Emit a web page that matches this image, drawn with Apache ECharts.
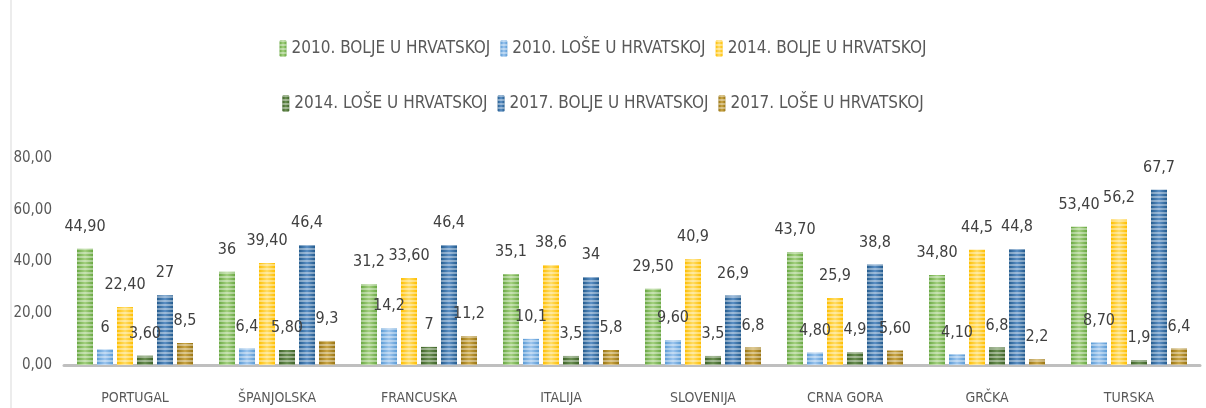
<!DOCTYPE html>
<html>
<head>
<meta charset="utf-8">
<script src="https://cdn.jsdelivr.net/npm/echarts@6/dist/echarts.min.js"></script>
<style>
  html, body { margin: 0; padding: 0; background: #fff; }
  #main { width: 1206px; height: 408px; }
</style>
</head>
<body>
<div id="main"></div>
<script>
var categories = ['PORTUGAL', 'ŠPANJOLSKA', 'FRANCUSKA', 'ITALIJA', 'SLOVENIJA', 'CRNA GORA', 'GRČKA', 'TURSKA'];
var seriesNames = [
  '2010. BOLJE U HRVATSKOJ', '2010. LOŠE U HRVATSKOJ', '2014. BOLJE U HRVATSKOJ',
  '2014. LOŠE U HRVATSKOJ', '2017. BOLJE U HRVATSKOJ', '2017. LOŠE U HRVATSKOJ'
];
var bolje2010 = [44.9, 36, 31.2, 35.1, 29.5, 43.7, 34.8, 53.4];
var lose2010  = [6, 6.4, 14.2, 10.1, 9.6, 4.8, 4.1, 8.7];
var bolje2014 = [22.4, 39.4, 33.6, 38.6, 40.9, 25.9, 44.5, 56.2];
var lose2014  = [3.6, 5.8, 7, 3.5, 3.5, 4.9, 6.8, 1.9];
var bolje2017 = [27, 46.4, 46.4, 34, 26.9, 38.8, 44.8, 67.7];
var lose2017  = [8.5, 9.3, 11.2, 5.8, 6.8, 5.6, 2.2, 6.4];

// labels as printed in the original (mixed decimals)
var labels2010b = ['44,90', '36', '31,2', '35,1', '29,50', '43,70', '34,80', '53,40'];
var labels2010l = ['6', '6,4', '14,2', '10,1', '9,60', '4,80', '4,10', '8,70'];
var labels2014b = ['22,40', '39,40', '33,60', '38,6', '40,9', '25,9', '44,5', '56,2'];
var labels2014l = ['3,60', '5,80', '7', '3,5', '3,5', '4,9', '6,8', '1,9'];
var labels2017b = ['27', '46,4', '46,4', '34', '26,9', '38,8', '44,8', '67,7'];
var labels2017l = ['8,5', '9,3', '11,2', '5,8', '6,8', '5,60', '2,2', '6,4'];

var values = [bolje2010, lose2010, bolje2014, lose2014, bolje2017, lose2017];
var labels = [labels2010b, labels2010l, labels2014b, labels2014l, labels2017b, labels2017l];
var colors = [
  ['#6aa843', '#a3d07f'],
  ['#5b9bd5', '#9cc5ee'],
  ['#ffbf00', '#ffdc66'],
  ['#3f6428', '#6a8f52'],
  ['#245c8f', '#5b8fc4'],
  ['#9a7512', '#c9a545']
];
var font = '"DejaVu Sans Condensed", sans-serif';

var myChart = echarts.init(document.getElementById('main'));

function fill(c) {
  return new echarts.graphic.LinearGradient(0, 0, 1, 0, [
    { offset: 0, color: c[0] },
    { offset: 0.5, color: c[1] },
    { offset: 1, color: c[0] }
  ]);
}

var series = values.map(function(v, i) {
  return {
    name: seriesNames[i],
    type: 'bar',
    data: v,
    barWidth: 16,
    barGap: '25%',
    itemStyle: {
      color: fill(colors[i]),
      decal: {
        symbol: 'rect',
        symbolSize: 1,
        dashArrayX: [1, 0],
        dashArrayY: [2, 2],
        rotation: 0,
        color: 'rgba(255,255,255,0.4)'
      }
    },
    label: {
      show: true,
      position: 'top',
      distance: 14,
      color: '#404040',
      fontSize: 16,
      fontFamily: font,
      formatter: function(p) { return labels[i][p.dataIndex]; }
    }
  };
});

var legendText = { color: '#595959', fontSize: 17, fontFamily: font };

var option = {
  animation: false,
  graphic: [{
    type: 'line',
    shape: { x1: 11, y1: 0, x2: 11, y2: 408 },
    style: { stroke: '#d9d9d9', lineWidth: 1 }
  }],
  legend: [{
    top: 40,
    left: 'center',
    padding: 0,
    itemWidth: 7,
    itemHeight: 17,
    itemGap: 10,
    textStyle: legendText,
    data: seriesNames.slice(0, 3)
  }, {
    top: 95,
    left: 'center',
    padding: 0,
    itemWidth: 7,
    itemHeight: 17,
    itemGap: 10,
    textStyle: legendText,
    data: seriesNames.slice(3)
  }],
  grid: { left: 64, right: 6, top: 158, bottom: 43 },
  xAxis: {
    type: 'category',
    data: categories,
    axisTick: { show: false },
    axisLine: { lineStyle: { color: '#bfbfbf', width: 3 } },
    axisLabel: { color: '#595959', fontSize: 14, fontFamily: font, margin: 26 }
  },
  yAxis: {
    type: 'value',
    min: 0,
    max: 80,
    interval: 20,
    splitLine: { show: false },
    axisLine: { show: false },
    axisLabel: {
      color: '#595959',
      fontSize: 15,
      fontFamily: font,
      margin: 12,
      formatter: function(v) { return v.toFixed(2).replace('.', ','); }
    }
  },
  series: series
};
myChart.setOption(option);
</script>
</body>
</html>
